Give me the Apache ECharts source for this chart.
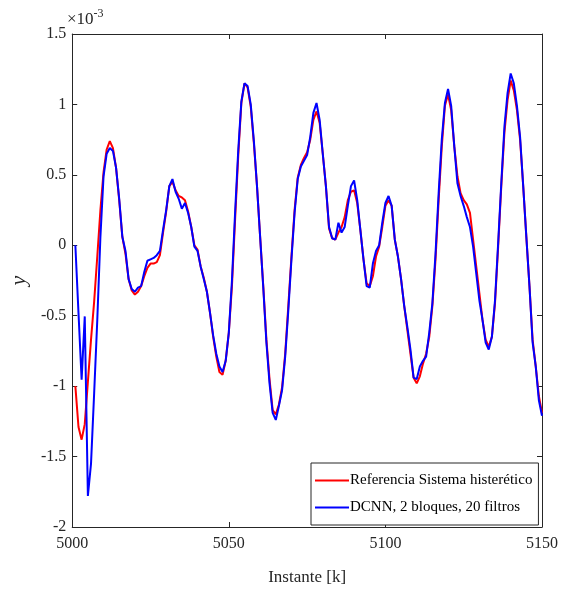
<!DOCTYPE html>
<html>
<head>
<meta charset="utf-8">
<script src="https://cdn.jsdelivr.net/npm/echarts@6/dist/echarts.min.js"></script>
<style>
  html, body { margin: 0; padding: 0; background: #fff; }
  #chart { width: 565px; height: 593px; }
</style>
</head>
<body>
<div id="chart"></div>
<script>
// primer instante de las series (paso de 1)
var kInicio = 5001;

// Referencia Sistema histerético (x1e-3)
var referencia = [
  -1.00, -1.29, -1.38, -1.27, -0.97, -0.67, -0.40, -0.08, 0.25, 0.52,
  0.68, 0.74, 0.69, 0.55, 0.32, 0.06, -0.06, -0.24, -0.32, -0.35,
  -0.33, -0.29, -0.22, -0.16, -0.13, -0.13, -0.12, -0.07, 0.09, 0.24,
  0.42, 0.45, 0.39, 0.35, 0.34, 0.32, 0.24, 0.13, 0.00, -0.03,
  -0.15, -0.23, -0.33, -0.48, -0.65, -0.79, -0.90, -0.92, -0.82, -0.62,
  -0.29, 0.18, 0.63, 1.01, 1.15, 1.12, 0.985, 0.725, 0.42, 0.06,
  -0.29, -0.67, -0.95, -1.17, -1.20, -1.13, -1.01, -0.77, -0.43, -0.08,
  0.25, 0.48, 0.57, 0.62, 0.66, 0.75, 0.89, 0.95, 0.87, 0.65,
  0.42, 0.12, 0.05, 0.04, 0.09, 0.13, 0.20, 0.32, 0.38, 0.39,
  0.30, 0.11, -0.10, -0.27, -0.29, -0.22, -0.08, -0.01, 0.13, 0.28,
  0.32, 0.28, 0.04, -0.08, -0.24, -0.43, -0.60, -0.77, -0.94, -0.98,
  -0.93, -0.84, -0.77, -0.65, -0.43, -0.10, 0.32, 0.70, 0.99, 1.07,
  0.96, 0.70, 0.49, 0.37, 0.32, 0.29, 0.23, 0.04, -0.15, -0.34,
  -0.53, -0.67, -0.72, -0.65, -0.41, -0.01, 0.42, 0.80, 1.03, 1.17,
  1.10, 0.96, 0.75, 0.42, 0.06, -0.29, -0.67, -0.86, -1.07, -1.19
];

// DCNN, 2 bloques, 20 filtros (x1e-3)
var dcnn = [
  0.00, -0.48, -0.955, -0.505, -1.78, -1.55, -1.05, -0.53, 0.06, 0.49,
  0.65, 0.69, 0.67, 0.55, 0.33, 0.06, -0.04, -0.24, -0.31, -0.33,
  -0.30, -0.29, -0.19, -0.11, -0.10, -0.09, -0.07, -0.04, 0.11, 0.25,
  0.42, 0.47, 0.38, 0.33, 0.26, 0.30, 0.23, 0.13, -0.01, -0.04,
  -0.15, -0.24, -0.33, -0.48, -0.64, -0.77, -0.86, -0.90, -0.82, -0.62,
  -0.25, 0.23, 0.67, 1.02, 1.15, 1.13, 1.00, 0.74, 0.42, 0.06,
  -0.30, -0.69, -0.98, -1.19, -1.24, -1.14, -1.03, -0.79, -0.46, -0.10,
  0.23, 0.47, 0.56, 0.60, 0.64, 0.77, 0.94, 1.01, 0.89, 0.65,
  0.42, 0.13, 0.05, 0.04, 0.16, 0.09, 0.13, 0.28, 0.42, 0.46,
  0.32, 0.11, -0.10, -0.29, -0.30, -0.13, -0.04, 0.00, 0.16, 0.30,
  0.35, 0.28, 0.04, -0.08, -0.24, -0.43, -0.58, -0.74, -0.94, -0.95,
  -0.86, -0.82, -0.79, -0.62, -0.41, -0.06, 0.37, 0.75, 1.01, 1.11,
  0.99, 0.70, 0.44, 0.35, 0.28, 0.20, 0.13, -0.01, -0.20, -0.39,
  -0.53, -0.69, -0.74, -0.65, -0.39, 0.015, 0.44, 0.84, 1.08, 1.22,
  1.15, 0.99, 0.77, 0.42, 0.06, -0.29, -0.69, -0.86, -1.10, -1.21
];

function pares(valores) {
  var out = [];
  for (var i = 0; i < valores.length; i++) {
    out.push([kInicio + i, valores[i]]);
  }
  return out;
}

var fuente = 'Liberation Serif';
var colorEje = '#262626';

var chart = echarts.init(document.getElementById('chart'));
var option = {
  backgroundColor: '#fff',
  animation: false,
  grid: {
    left: 69,
    right: 23,
    top: 34,
    bottom: 66
  },
  // factor de escala
  graphic: [{
    type: 'text',
    left: 67,
    top: 8,
    style: {
      text: '{a|×10}{b|-3}',
      rich: {
        a: { fontFamily: fuente, fontSize: 17, fill: colorEje, verticalAlign: 'bottom' },
        b: { fontFamily: fuente, fontSize: 12, fill: colorEje, verticalAlign: 'top', padding: [0, 0, 8, 0] }
      }
    }
  }],
  legend: {
    orient: 'vertical',
    left: 311,
    top: 463,
    icon: 'rect',
    itemWidth: 34,
    itemHeight: 2,
    itemGap: 12,
    padding: [10, 6, 10, 4],
    borderColor: colorEje,
    borderWidth: 1,
    backgroundColor: '#fff',
    textStyle: {
      fontFamily: fuente,
      fontSize: 15,
      color: '#000',
      padding: [0, 0, 0, -4]
    },
    data: ['Referencia Sistema histerético', 'DCNN, 2 bloques, 20 filtros']
  },
  xAxis: [{
    type: 'value',
    min: 5000,
    max: 5150,
    interval: 50,
    name: 'Instante [k]',
    nameLocation: 'middle',
    nameGap: 42,
    nameTextStyle: { fontFamily: fuente, fontSize: 17, color: colorEje },
    axisLine: { onZero: false, lineStyle: { color: colorEje, width: 1 } },
    axisTick: { inside: true, length: 5, lineStyle: { color: colorEje } },
    axisLabel: {
      fontFamily: fuente,
      fontSize: 16,
      color: colorEje,
      margin: 9,
      formatter: function (v) { return String(v); }
    },
    splitLine: { show: false }
  }, {
    type: 'value',
    position: 'top',
    min: 5000,
    max: 5150,
    interval: 50,
    axisLine: { show: true, onZero: false, lineStyle: { color: colorEje, width: 1 } },
    axisTick: { inside: true, length: 5, lineStyle: { color: colorEje } },
    axisLabel: { show: false },
    splitLine: { show: false }
  }],
  yAxis: [{
    type: 'value',
    min: -2,
    max: 1.5,
    interval: 0.5,
    name: 'y',
    nameLocation: 'middle',
    nameGap: 42,
    nameTextStyle: { fontFamily: fuente, fontSize: 22, fontStyle: 'italic', color: colorEje },
    axisLine: { show: true, onZero: false, lineStyle: { color: colorEje, width: 1 } },
    axisTick: { show: true, inside: true, length: 5, lineStyle: { color: colorEje } },
    axisLabel: {
      fontFamily: fuente,
      fontSize: 16,
      color: colorEje,
      margin: 6,
      formatter: function (v) { return String(v); }
    },
    splitLine: { show: false }
  }, {
    type: 'value',
    position: 'right',
    min: -2,
    max: 1.5,
    interval: 0.5,
    axisLine: { show: true, onZero: false, lineStyle: { color: colorEje, width: 1 } },
    axisTick: { show: true, inside: true, length: 5, lineStyle: { color: colorEje } },
    axisLabel: { show: false },
    splitLine: { show: false }
  }],
  series: [{
    name: 'Referencia Sistema histerético',
    type: 'line',
    data: pares(referencia),
    symbol: 'none',
    lineStyle: { color: '#ff0000', width: 2 },
    itemStyle: { color: '#ff0000' }
  }, {
    name: 'DCNN, 2 bloques, 20 filtros',
    type: 'line',
    data: pares(dcnn),
    symbol: 'none',
    lineStyle: { color: '#0000ff', width: 2 },
    itemStyle: { color: '#0000ff' }
  }]
};
chart.setOption(option);

window.addEventListener('resize', function () {
  chart.resize();
});
</script>
</body>
</html>
